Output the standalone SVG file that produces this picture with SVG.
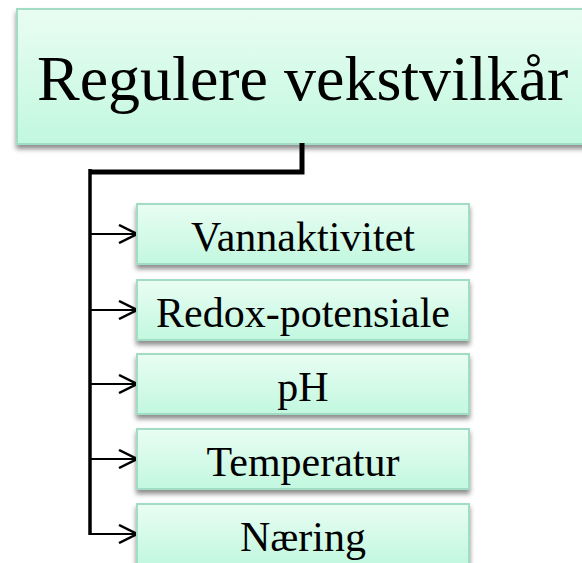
<svg xmlns="http://www.w3.org/2000/svg" width="582" height="563" viewBox="0 0 582 563">
<defs>
<linearGradient id="g" x1="0" y1="0" x2="0" y2="1">
<stop offset="0" stop-color="#e9fdf3"/>
<stop offset="1" stop-color="#c2f8df"/>
</linearGradient>
<filter id="sh" x="-10%" y="-10%" width="120%" height="140%">
<feDropShadow dx="0" dy="4" stdDeviation="2.5" flood-color="#000" flood-opacity="0.45"/>
</filter>
<marker id="arr" viewBox="0 0 20 20" refX="19" refY="10" markerWidth="20" markerHeight="20" markerUnits="userSpaceOnUse" orient="auto">
<path d="M1,1 L19,10 L1,19" fill="none" stroke="#000" stroke-width="2.5"/>
</marker>
</defs>
<style>
.box{fill:url(#g);stroke:#a2dcc5;stroke-width:2;filter:url(#sh)}
.t{font-family:"Liberation Serif","Times New Roman",serif;fill:#000}
.c{font-size:42px;text-anchor:middle}
.br{fill:none;stroke:#000;stroke-width:2.2;marker-end:url(#arr)}
</style>
<g id="root">
<rect class="box" x="17" y="9" width="600" height="135"/>
<text class="t" x="37" y="100" font-size="64">Regulere vekstvilkår</text>
</g>
<g id="connectors">
<path d="M302,143 V172 H90" fill="none" stroke="#000" stroke-width="5"/>
<path d="M90,169 V535" fill="none" stroke="#000" stroke-width="3.5"/>
<path class="br" d="M90,234 H137"/>
<path class="br" d="M90,310 H137"/>
<path class="br" d="M90,384 H137"/>
<path class="br" d="M90,459 H137"/>
<path class="br" d="M90,534 H137"/>
</g>
<g id="n1"><rect class="box" x="137" y="204" width="332" height="60"/><text class="t c" x="303" y="251">Vannaktivitet</text></g>
<g id="n2"><rect class="box" x="137" y="280" width="332" height="60"/><text class="t c" x="303" y="327">Redox-potensiale</text></g>
<g id="n3"><rect class="box" x="137" y="354" width="332" height="60"/><text class="t c" x="303" y="401">pH</text></g>
<g id="n4"><rect class="box" x="137" y="429" width="332" height="60"/><text class="t c" x="303" y="476">Temperatur</text></g>
<g id="n5"><rect class="box" x="137" y="504" width="332" height="60"/><text class="t c" x="303" y="551">Næring</text></g>
</svg>
